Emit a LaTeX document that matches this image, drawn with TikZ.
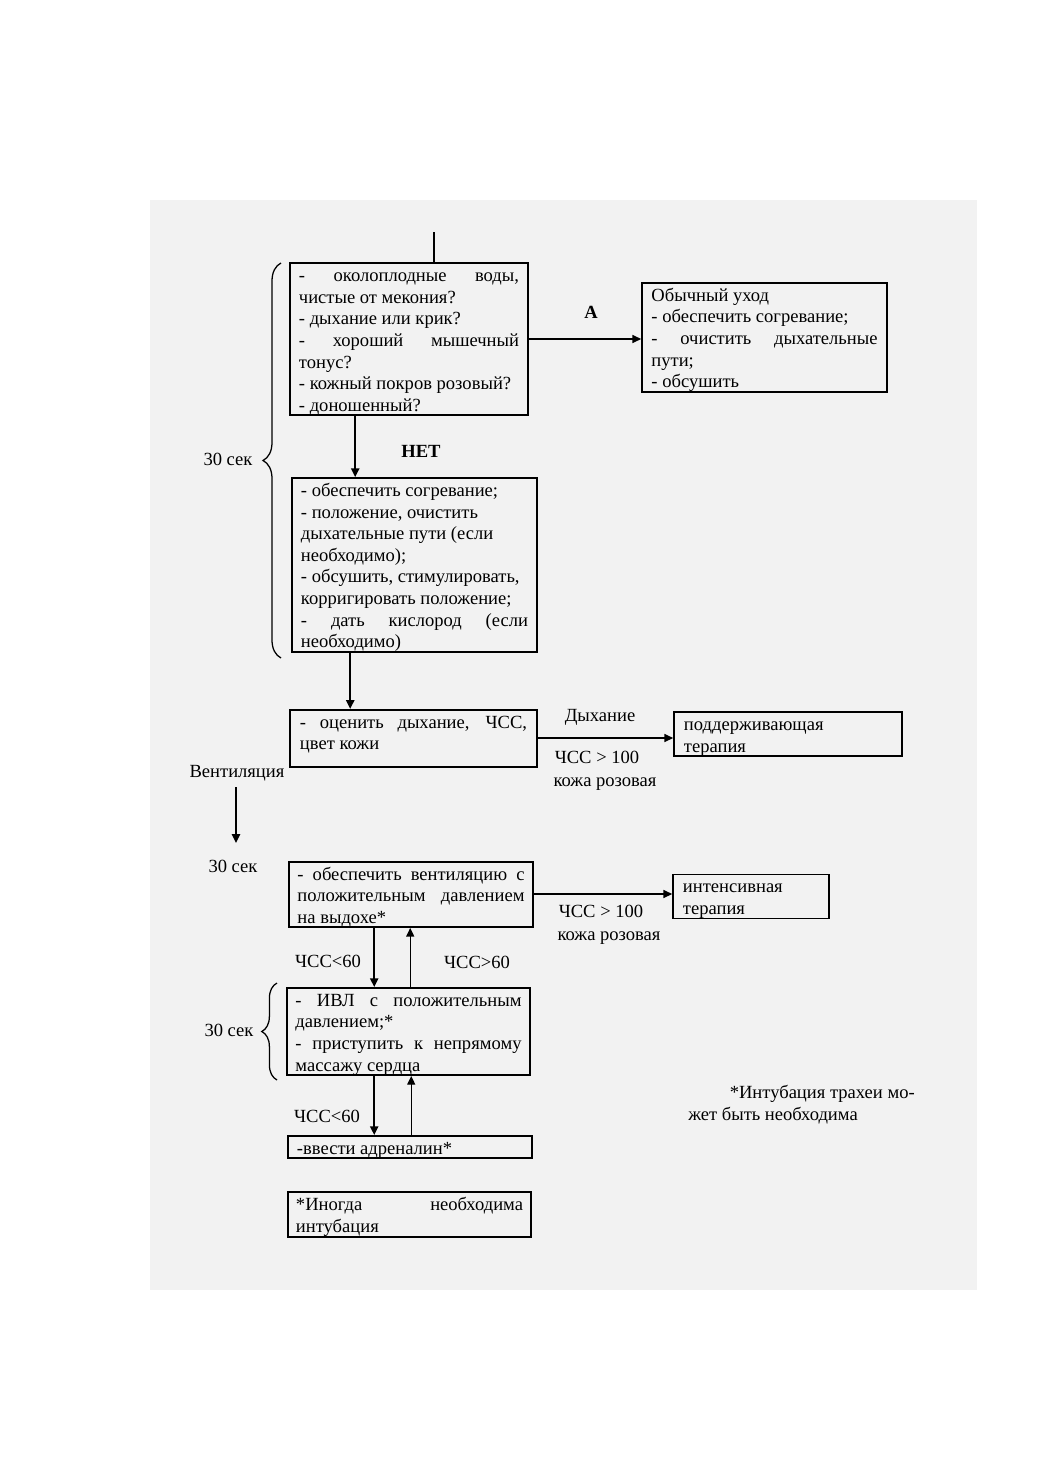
\documentclass[tikz,border=0pt]{standalone}
\usepackage{fontspec}
\setmainfont{Liberation Serif}
\usetikzlibrary{arrows.meta,decorations.pathreplacing,calc}
\setlength\parindent{0pt}
\hyphenpenalty=10000
\exhyphenpenalty=10000
\newcommand\tS{\rule{0pt}{13pt}}
\newcommand\bS{\rule[-2.5pt]{0pt}{2.5pt}}
\begin{document}
\begin{tikzpicture}[x=0.025cm,y=-0.025cm,
  every node/.style={font=\fontsize{13.2}{15.4}\selectfont},
  bx/.style={draw, line width=1.1pt, inner xsep=0pt, inner ysep=0pt, align=justify},
  arr/.style={-{Triangle[length=2.2mm,width=2mm]}, line width=1pt},
  arrb/.style={arr, line width=1.5pt},
  lbl/.style={inner sep=0pt, text height=9pt, text depth=3pt},
  bigbrace/.style={decorate, decoration={brace, amplitude=0.45cm}, line width=0.9pt},
  smallbrace/.style={decorate, decoration={brace, amplitude=0.38cm}, line width=0.9pt}
]
\useasboundingbox (0,0) rectangle (1041,1472);
\fill[black!5] (150,200) rectangle (977,1290);

% boxes
\node[bx, minimum width=5.95cm, minimum height=3.8cm, text width=5.5cm] (q) at (409,339)
 {\tS- околоплодные воды,\linebreak чистые от мекония?\newline - дыхание или крик?\newline - хороший мышечный\linebreak тонус?\newline - кожный покров розовый?\newline - доношенный?\bS};
\node[bx, minimum width=6.125cm, minimum height=2.675cm, text width=5.65cm] (care) at (764.5,337.5)
 {\tS Обычный уход\newline - обеспечить согревание;\newline - очистить дыхательные\linebreak пути;\newline - обсушить\bS};
\node[bx, minimum width=6.125cm, minimum height=4.35cm, text width=5.675cm] (init) at (414.5,565)
 {\tS- обеспечить согревание;\newline - положение, очистить\newline дыхательные пути (если\newline необходимо);\newline - обсушить, стимулировать,\newline корригировать положение;\newline - дать кислород (если\linebreak необходимо)\bS};
\node[bx, minimum width=6.175cm, minimum height=1.425cm, text width=5.675cm] (eval) at (413.5,738.5)
 {\tS- оценить дыхание, ЧСС,\linebreak цвет кожи\rule[-12.5pt]{0pt}{12.5pt}};
\node[bx, minimum width=5.7cm, minimum height=1.1cm, text width=5.2cm] (support) at (788,734)
 {\tS поддерживающая\newline терапия\bS};
\node[bx, minimum width=6.1cm, minimum height=1.625cm, text width=5.675cm] (vent) at (411,894.5)
 {\tS- обеспечить вентиляцию с\linebreak положительным давлением\linebreak на выдохе*\bS};
\node[bx, minimum width=3.9cm, minimum height=1.075cm, text width=3.4cm] (intens) at (751,896.5)
 {\tS интенсивная\newline терапия\bS};
\node[bx, minimum width=6.075cm, minimum height=2.175cm, text width=5.65cm] (cpr) at (408.5,1031.5)
 {\tS- ИВЛ с положительным\linebreak давлением;*\newline - приступить к непрямому\linebreak массажу сердца\bS};
\node[bx, minimum width=6.1cm, minimum height=0.55cm, text width=5.65cm] (adr) at (410,1147)
 {\tS-ввести адреналин*\bS};
\node[bx, minimum width=6.075cm, minimum height=1.125cm, text width=5.675cm] (note) at (409.5,1214.5)
 {\tS*Иногда необходима\linebreak интубация\bS};

% labels
\node[lbl, font=\fontsize{13.2}{15.4}\selectfont\bfseries] (la) at (591,314) {А};
\node[lbl, font=\fontsize{13.2}{15.4}\selectfont\bfseries] (lnet) at (421,453) {НЕТ};
\node[lbl] (s1) at (228,461) {30 сек};
\node[lbl] (ldyh) at (600,717) {Дыхание};
\node[lbl] (lhr1) at (597,759) {ЧСС > 100};
\node[lbl] (lsk1) at (605,782) {кожа розовая};
\node[lbl] (lvent) at (237,773) {Вентиляция};
\node[lbl] (s2) at (233,868) {30 сек};
\node[lbl] (lhr2) at (601,913) {ЧСС > 100};
\node[lbl] (lsk2) at (609,936) {кожа розовая};
\node[lbl] (llt1) at (328,963) {ЧСС<60};
\node[lbl] (lgt1) at (477,964) {ЧСС>60};
\node[lbl] (s3) at (229,1032) {30 сек};
\node[lbl] (llt2) at (327,1118) {ЧСС<60};
\node[lbl, anchor=east] (fn1) at (915,1094) {*Интубация трахеи мо-};
\node[lbl, anchor=west] (fn2) at (688,1116) {жет быть необходима};

% connectors
\coordinate (top) at (434,232);
\draw[line width=1pt] (top) -- (top |- q.north);
\draw[arr] (q.east |- 0,339) -- (care.west |- 0,339);
\draw[arrb] ([xshift=1.65cm]q.south west) -- ([xshift=1.65cm]q.south west |- init.north);
\draw[arrb] ([xshift=1.475cm]init.south west) -- ([xshift=1.475cm]init.south west |- eval.north);
\draw[arr] (eval.east |- 0,738) -- (support.west |- 0,738);
\coordinate (v1) at (236,787);
\coordinate (v2) at (236,843);
\draw[arrb] (v1) -- (v2);
\draw[arr] (vent.east |- 0,894) -- (intens.west |- 0,894);
\draw[arrb] ([xshift=2.15cm]vent.south west) -- ([xshift=2.15cm]vent.south west |- cpr.north);
\draw[arr] ([xshift=3.05cm]vent.south west |- cpr.north) -- ([xshift=3.05cm]vent.south west);
\draw[arrb] ([xshift=2.2cm]cpr.south west) -- ([xshift=2.2cm]cpr.south west |- adr.north);
\draw[arr] ([xshift=3.1cm]adr.north west) -- ([xshift=3.1cm]adr.north west |- cpr.south);

% braces
\draw[bigbrace] (281,658) -- (281,263);
\draw[smallbrace] (277,1080) -- (277,983);
\end{tikzpicture}
\end{document}
